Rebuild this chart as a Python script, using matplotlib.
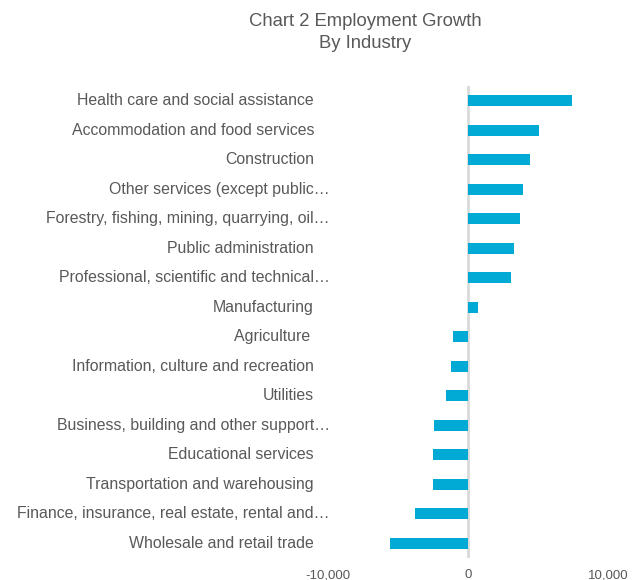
import matplotlib
matplotlib.use("Agg")
import matplotlib.pyplot as plt

plt.rcParams['font.family'] = ['Liberation Sans', 'DejaVu Sans']

# categories top to bottom
industries = [
    "Health care and social assistance",
    "Accommodation and food services",
    "Construction",
    "Other services (except public\u2026",
    "Forestry, fishing, mining, quarrying, oil\u2026",
    "Public administration",
    "Professional, scientific and technical\u2026",
    "Manufacturing",
    "Agriculture ",
    "Information, culture and recreation",
    "Utilities",
    "Business, building and other support\u2026",
    "Educational services",
    "Transportation and warehousing",
    "Finance, insurance, real estate, rental and\u2026",
    "Wholesale and retail trade",
]
growth = [7400, 5100, 4450, 3950, 3700, 3300, 3100, 700,
          -1100, -1200, -1600, -2400, -2500, -2500, -3800, -5600]
xticks = [-10000, 0, 10000]
xtick_labels = ["-10,000", "0", "10,000"]

W, H = 644, 580
fig = plt.figure(figsize=(W / 100, H / 100), dpi=100)
# axes box in pixels: left 328, right 608, top 86, bottom 558
ax = fig.add_axes([328 / W, 1 - 558 / H, 280 / W, 472 / H])

grey = '#595959'
ypos = list(range(len(industries)))
ax.barh(ypos, growth, height=0.37, color='#00aad4')
ax.set_ylim(len(industries) - 0.5, -0.5)
ax.set_xlim(-10000, 10000)
ax.axvline(0, color='#d9d9d9', lw=2, zorder=0)

for s in ax.spines.values():
    s.set_visible(False)
ax.set_yticks([])
ax.set_xticks(xticks)
ax.set_xticklabels(xtick_labels, color=grey, fontsize=9.5)
ax.tick_params(axis='x', length=0, pad=8)

tr = ax.get_yaxis_transform()
for y, name in zip(ypos, industries):
    xr = 0.007 if name.endswith('\u2026') else -0.05
    ax.text(xr, y, name, transform=tr, ha='right', va='center',
            fontsize=11.4, color=grey)

fig.text(365 / W, 1 - 21 / H, "Chart 2 Employment Growth", ha='center', va='center',
         fontsize=13.3, color=grey)
fig.text(365 / W, 1 - 43 / H, "By Industry", ha='center', va='center',
         fontsize=13.3, color=grey)

fig.savefig("out.png", dpi=100)
